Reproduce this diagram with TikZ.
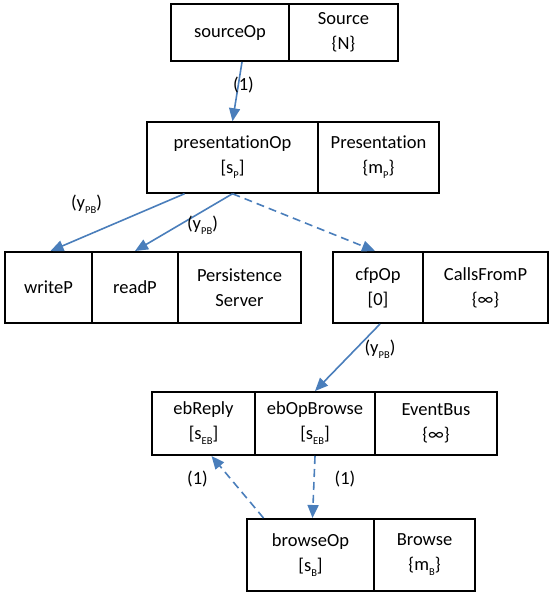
\documentclass[tikz,border=0pt]{standalone}
\usepackage{fontspec}
\setmainfont{Carlito}[Ligatures=NoCommon]
\usetikzlibrary{arrows.meta}
\definecolor{arrowblue}{HTML}{4A7EBB}
\newcommand\cellfont{\fontsize{18.5}{25}\selectfont}
\newcommand\lsub[1]{\raisebox{-5pt}{\fontsize{10.5}{10.5}\selectfont #1}}
\begin{document}
\begin{tikzpicture}[x=1pt,y=-1pt,
  cell/.style={draw, line width=2pt, align=center, inner sep=0pt, font=\cellfont},
  thincell/.style={cell, line width=1.5pt},
  conn/.style={draw=arrowblue, line width=1.6pt, -{Triangle[length=13pt,width=11pt]}},
  dconn/.style={conn, dash pattern=on 8pt off 5pt},
  lbl/.style={font=\cellfont, inner sep=0pt}]
\useasboundingbox (0,0) rectangle (549,593);
% Source
\node[cell, minimum width=118pt, minimum height=57pt] (sourceOp) at (230,32.5) {sourceOp};
\node[cell, minimum width=109pt, minimum height=57pt] (source) at (343.5,32.5) {Source\\\{N\}};
% Presentation
\node[thincell, minimum width=171pt, minimum height=71pt] (presOp) at (232.5,157.5) {presentationOp\\{}[s\lsub{P}]};
\node[thincell, minimum width=121pt, minimum height=71pt] (pres) at (378.5,157.5) {Presentation\\\{m\lsub{P}\}};
% Persistence
\node[cell, minimum width=87pt, minimum height=71pt] (writeP) at (48.5,287.5) {writeP};
\node[cell, minimum width=86pt, minimum height=71pt] (readP) at (135,287.5) {readP};
\node[cell, minimum width=123pt, minimum height=71pt] (persist) at (239.5,287.5) {Persistence\\Server};
% CallsFromP
\node[cell, minimum width=90pt, minimum height=71pt] (cfpOp) at (378,287.5) {cfpOp\\{}[0]};
\node[cell, minimum width=125pt, minimum height=71pt] (callsP) at (485.5,287.5) {CallsFromP\\\{∞\}};
% EventBus
\node[cell, minimum width=103pt, minimum height=63pt] (ebReply) at (203.5,423.5) {ebReply\\{}[s\lsub{EB}]};
\node[cell, minimum width=120pt, minimum height=63pt] (ebOpBrowse) at (315,423.5) {ebOpBrowse\\{}[s\lsub{EB}]};
\node[cell, minimum width=122pt, minimum height=63pt] (eventBus) at (436,423.5) {EventBus\\\{∞\}};
% Browse
\node[cell, minimum width=127pt, minimum height=72pt] (browseOp) at (310.5,555) {browseOp\\{}[s\lsub{B}]};
\node[cell, minimum width=101pt, minimum height=72pt] (browse) at (424.5,555) {Browse\\\{m\lsub{B}\}};
% connectors
\draw[conn] ([xshift=12pt]sourceOp.south) -- (presOp.north);
\draw[conn] ([xshift=-48pt]presOp.south) -- ([xshift=2pt]writeP.north);
\draw[conn] (presOp.south) -- (readP.north);
\draw[dconn] (presOp.south) -- ([xshift=-3pt]cfpOp.north);
\draw[conn] ([xshift=2pt]cfpOp.south) -- (ebOpBrowse.north);
\draw[dconn] ([xshift=-47pt]browseOp.north) -- ([xshift=8pt]ebReply.south);
\draw[dconn] (ebOpBrowse.south) -- ([xshift=2pt]browseOp.north);
% labels
\node[lbl] (l1) at (243.5,85) {(1)};
\node[lbl] (l2) at (86.5,204) {(y\lsub{PB})};
\node[lbl] (l3) at (202.5,225) {(y\lsub{PB})};
\node[lbl] (l4) at (380,349) {(y\lsub{PB})};
\node[lbl] (l5) at (197.5,479) {(1)};
\node[lbl] (l6) at (345,479) {(1)};
\end{tikzpicture}
\end{document}
